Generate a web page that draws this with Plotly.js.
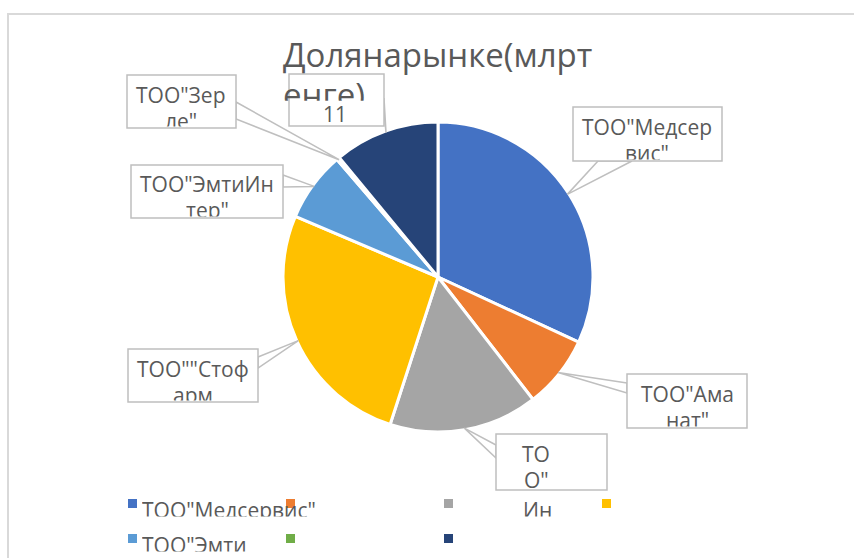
<!DOCTYPE html>
<html><head><meta charset="utf-8">
<script src="https://cdn.plot.ly/plotly-3.0.1.min.js"></script>
<style>html,body{margin:0;padding:0;background:#fff}#chart{width:854px;height:558px}</style>
</head><body><div id="chart"></div>
<script>
// ---- data ----
const companies = ['ТОО"Медсервис"', 'ТОО"Аманат"', 'ТОО"Ин"', 'ТОО""Стофарм', 'ТОО"ЭмтиИнтер"', 'ТОО"Зерле"', '11'];
const shares = [31.9, 7.6, 15.5, 26.4, 7.3, 0.3, 11.0];
const sliceColors = ['#4472C4', '#ED7D31', '#A5A5A5', '#FFC000', '#5B9BD5', '#70AD47', '#264478'];
const calloutText = [['ТОО"Медсер', 'вис"'], ['ТОО"Ама', 'нат"'], ['ТО', 'О"'], ['ТОО""Стоф', 'арм'], ['ТОО"ЭмтиИн', 'тер"'], ['ТОО"Зер', 'ле"'], ['11']];
const legendText = ['ТОО"Медсервис"', '', 'Ин', '', 'ТОО"Эмти', '', ''];
const titleLines = ['Долянарынке(млрт', 'енге)'];

// ---- layout constants (pixels) ----
const W = 854, H = 558;
const CX = 438, CY = 277, R = 155;
const FONT = 'Open Sans, Noto Sans, sans-serif';
const TXT = '#595959', BOXC = '#bfbfbf';
const px = x => x / W, py = y => 1 - y / H;
// callout boxes: [left, top, right, bottom, textCenterX, firstCapTopOffset]
const boxes = [
  [573, 107, 722, 161, 647, 13],
  [627, 374, 747, 428, 687, 13],
  [496, 434, 607, 490, 536, 13],
  [128, 349, 258, 402, 193, 13],
  [131, 165, 283, 218, 207, 12],
  [127, 75, 236, 128, 181, 13],
  [289, 74, 384, 126, 335, 33]
];
// wedge base points on box edges
const bases = [
  [[598, 161], [632, 161]],
  [[627, 383], [627, 393]],
  [[496, 445], [496, 458]],
  [[258, 357], [258, 368]],
  [[283, 175], [283, 187]],
  [[236, 102], [236, 119]],
  [[384, 98], [384, 112]]
];
const legendCols = [128, 286, 444, 602], legendRows = [499, 534];
const legendTextX = [142, 300, 523, 616, 142, 300, 458];
const legendClip = [516, 551];

const annotations = [], shapes = [];
// frame
shapes.push({type: 'rect', xref: 'paper', yref: 'paper', x0: px(8), x1: px(870), y0: py(14), y1: py(575),
  line: {color: '#d9d9d9', width: 2}, fillcolor: 'rgba(0,0,0,0)', layer: 'below'});

function lineAnn(text, cx, capTop, clipBottom, size, anchor) {
  const k = size * 0.355; // gap between text box top and cap top
  const top = capTop - k;
  const a = {xref: 'paper', yref: 'paper', x: px(cx), y: py(top), xanchor: anchor || 'center', yanchor: 'top',
    text: text, showarrow: false, font: {family: FONT, size: size, color: TXT}, borderpad: 0, borderwidth: 0, valign: 'top'};
  const full = size * 1.37;
  if (clipBottom !== null && top + full > clipBottom) {
    a.height = Math.max(1, clipBottom - top);
  }
  return a;
}

// title
annotations.push(lineAnn(titleLines[0], 283, 44, null, 33, 'left'));
annotations.push(lineAnn(titleLines[1], 283, 84, 101, 33, 'left'));

// pie midpoint angles -> callout tips
const total = shares.reduce((a, b) => a + b, 0);
let cum = 0;
shares.forEach((v, i) => {
  const mid = (cum + v / 2) / total * 2 * Math.PI;
  cum += v;
  const rt = R * 0.99;
  const tx = CX + rt * Math.sin(mid), ty = CY - rt * Math.cos(mid);
  const [b1, b2] = bases[i];
  shapes.push({type: 'path', xref: 'paper', yref: 'paper', layer: 'above',
    path: `M${px(b1[0])},${py(b1[1])} L${px(tx)},${py(ty)} L${px(b2[0])},${py(b2[1])} Z`,
    line: {color: BOXC, width: 1.5}, fillcolor: '#ffffff'});
  const [l, t, r, b, tcx, off] = boxes[i];
  shapes.push({type: 'rect', xref: 'paper', yref: 'paper', layer: 'above',
    x0: px(l), x1: px(r), y0: py(b), y1: py(t), line: {color: BOXC, width: 1.5}, fillcolor: '#ffffff'});
  calloutText[i].forEach((ln, j) => {
    const cap = t + off + j * 26;
    if (cap < b - 2) annotations.push(lineAnn(ln, tcx, cap, b - 2, 21));
  });
});

// custom legend
sliceColors.forEach((c, i) => {
  const col = i % 4, row = Math.floor(i / 4);
  const x0 = legendCols[col], y0 = legendRows[row];
  shapes.push({type: 'rect', xref: 'paper', yref: 'paper', layer: 'above',
    x0: px(x0), x1: px(x0 + 9), y0: py(y0 + 9), y1: py(y0), line: {width: 0}, fillcolor: c});
  if (legendText[i]) annotations.push(lineAnn(legendText[i], legendTextX[i], y0 + 4, legendClip[row], 21, 'left'));
});

const trace = {
  type: 'pie', values: shares, labels: companies, sort: false, direction: 'clockwise', rotation: 0,
  marker: {colors: sliceColors, line: {color: '#ffffff', width: 3}},
  textinfo: 'none', hoverinfo: 'none', showlegend: false,
  domain: {x: [px(CX - R), px(CX + R)], y: [py(CY + R), py(CY - R)]}
};

Plotly.newPlot('chart', [trace], {
  width: W, height: H, margin: {l: 0, r: 0, t: 0, b: 0},
  paper_bgcolor: '#ffffff', plot_bgcolor: '#ffffff', showlegend: false,
  shapes: shapes, annotations: annotations
}, {staticPlot: true});
</script></body></html>
